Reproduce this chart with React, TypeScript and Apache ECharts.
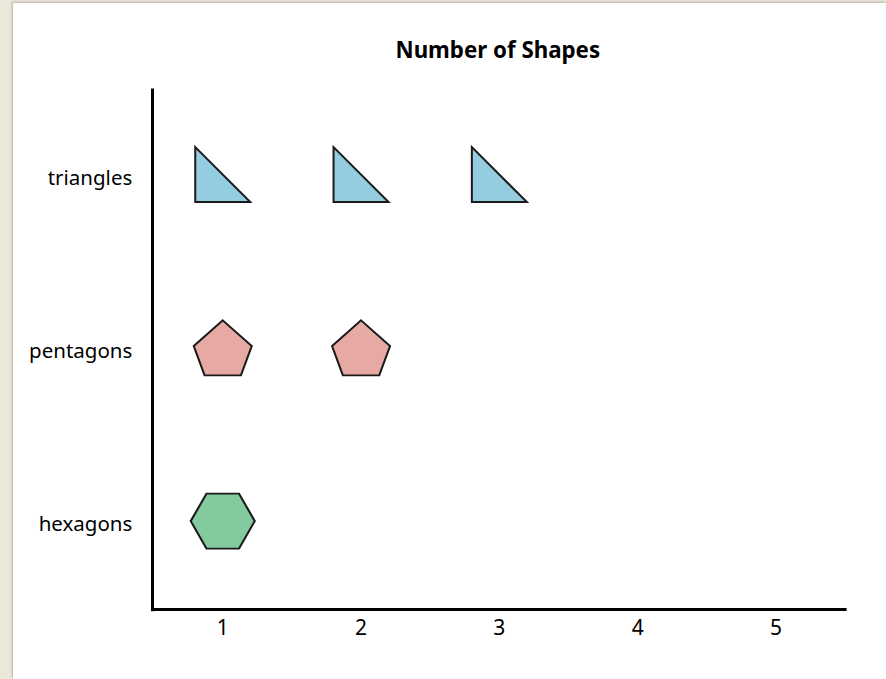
import React, { useEffect, useRef } from "react";
import * as echarts from "echarts";

const title = "Number of Shapes";
const shapeNames = ["triangles", "pentagons", "hexagons"];
const countTicks = ["1", "2", "3", "4", "5"];
const shapeCounts = [3, 2, 1];
const shapeColors = ["#94cde0", "#e6a9a3", "#83cb9f"];
const shapePaths = [
  "path://M0 0L0 100L100 100Z",
  "path://M29.5 0L59 26L48 55.5L11 55.5L0 26Z",
  "path://M16 0L49 0L65 28L49 56L16 56L0 28Z",
];
const shapeSizes = [
  [55, 55],
  [58, 55],
  [64, 55],
];
const FONT = "Noto Sans";

export default function App() {
  const ref = useRef<HTMLDivElement>(null);
  useEffect(() => {
    const chart = echarts.init(ref.current!, null, { renderer: "svg", width: 886, height: 679 });
    chart.setOption({
      animation: false,
      backgroundColor: "transparent",
      title: {
        text: title,
        left: 390.5,
        top: 33,
        textStyle: { fontFamily: FONT, fontSize: 22.3, fontWeight: "bold", color: "#000" },
      },
      grid: { left: 153.6, top: 90, width: 691.5, height: 519.7 },
      xAxis: {
        type: "category",
        data: countTicks,
        axisTick: { show: false },
        axisLine: { lineStyle: { color: "#000", width: 3, cap: "square" } },
        axisLabel: { margin: 7, fontFamily: FONT, fontSize: 21, color: "#000" },
        splitLine: { show: false },
      },
      yAxis: {
        type: "category",
        inverse: true,
        data: shapeNames,
        offset: 1.3,
        axisTick: { show: false },
        axisLine: { lineStyle: { color: "#000", width: 3, cap: "square" } },
        axisLabel: { margin: 20, fontFamily: FONT, fontSize: 20.5, color: "#000" },
        splitLine: { show: false },
      },
      series: shapeNames.map((name, s) => ({
        type: "scatter",
        name,
        symbol: shapePaths[s],
        symbolSize: shapeSizes[s],
        symbolOffset: [0, -2],
        itemStyle: { color: shapeColors[s], borderColor: "#1a1a1a", borderWidth: 2, opacity: 1 },
        data: Array.from({ length: shapeCounts[s] }, (_, i) => [i, s]),
      })),
    });
    return () => chart.dispose();
  }, []);
  return (
    <div style={{ position: "fixed", left: 0, top: 0, width: 886, height: 679, background: "#ebe7da", overflow: "hidden" }}>
      <div
        style={{
          position: "absolute",
          left: 13,
          top: 3,
          width: 873,
          height: 676,
          background: "#fff",
          boxShadow: "-1px -1px 2px rgba(120,115,100,0.45)",
        }}
      />
      <div ref={ref} style={{ position: "absolute", left: 0, top: 0, width: 886, height: 679 }} />
    </div>
  );
}
